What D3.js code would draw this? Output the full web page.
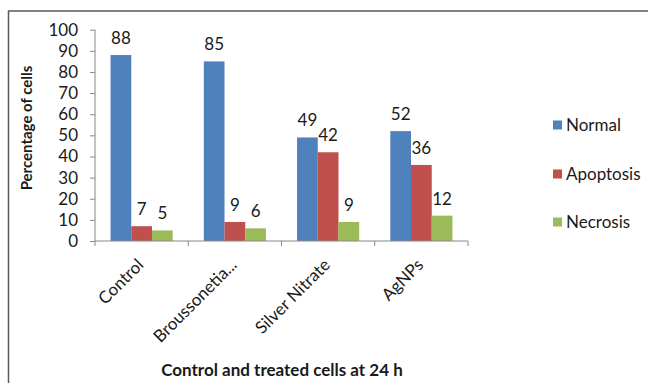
<!DOCTYPE html>
<html>
<head>
<meta charset="utf-8">
<script src="https://cdn.jsdelivr.net/npm/d3@7"></script>
<style>
  html, body { margin: 0; padding: 0; background: #fff; }
  svg { display: block; font-family: Lato, "Open Sans", sans-serif; }
</style>
</head>
<body>
<svg id="chart" width="648" height="383"></svg>
<script>
// Cell viability at 24 h, percentages per treatment
const categories = ["Control", "Broussonetia...", "Silver Nitrate", "AgNPs"];
const seriesNames = ["Normal", "Apoptosis", "Necrosis"];
const normal = [88, 85, 49, 52];
const apoptosis = [7, 9, 42, 36];
const necrosis = [5, 6, 9, 12];
const yTicks = [0, 10, 20, 30, 40, 50, 60, 70, 80, 90, 100];
const seriesColors = ["#4F81BD", "#C0504D", "#9BBB59"];

const seriesValues = [normal, apoptosis, necrosis];

const svg = d3.select("#chart");

// Frame around the chart area
svg.append("rect")
  .attr("x", 8.5).attr("y", 11)
  .attr("width", 700).attr("height", 500)
  .attr("fill", "none")
  .attr("stroke", "#5a5a5a")
  .attr("stroke-width", 1.5);

const plot = { left: 95, right: 468, top: 29.7, bottom: 241 };

const x = d3.scaleBand().domain(categories).range([plot.left, plot.right]).padding(0);
const xs = d3.scaleBand().domain(seriesNames).range([0, x.bandwidth()])
  .paddingInner(0).paddingOuter(0.75);
const y = d3.scaleLinear().domain([0, 100]).range([plot.bottom, plot.top]);

const axisColor = "#888";
const textColor = "#1a1a1a";

// Y axis
const yAxis = svg.append("g")
  .attr("transform", `translate(${plot.left},0)`)
  .call(d3.axisLeft(y).tickValues(yTicks).tickSize(5).tickPadding(12).tickFormat(d3.format("d")));
yAxis.select(".domain").attr("stroke", axisColor).attr("d", `M0,${plot.bottom}V${plot.top}`);
yAxis.selectAll(".tick line").attr("stroke", axisColor);
yAxis.selectAll(".tick text")
  .attr("fill", textColor)
  .style("font-size", "17px")
  .style("font-family", "Lato, sans-serif");

// Bars with value labels
const groups = svg.append("g").selectAll("g")
  .data(categories)
  .join("g")
  .attr("transform", d => `translate(${x(d)},0)`);

groups.each(function(cat, ci) {
  const g = d3.select(this);
  seriesNames.forEach((s, si) => {
    const v = seriesValues[si][ci];
    g.append("rect")
      .attr("x", xs(s))
      .attr("y", y(v))
      .attr("width", xs.bandwidth())
      .attr("height", y(0) - y(v))
      .attr("fill", seriesColors[si]);
    g.append("text")
      .attr("x", xs(s) + xs.bandwidth() / 2)
      .attr("y", y(v) - 11)
      .attr("text-anchor", "middle")
      .style("font-size", "17px")
      .attr("fill", textColor)
      .text(v);
  });
});

// X axis with boundary ticks
const xAxisG = svg.append("g");
xAxisG.append("line")
  .attr("x1", plot.left).attr("x2", plot.right)
  .attr("y1", plot.bottom).attr("y2", plot.bottom)
  .attr("stroke", axisColor);
const bounds = categories.map(c => x(c)).concat([plot.right]);
xAxisG.selectAll("line.tk")
  .data(bounds)
  .join("line")
  .attr("class", "tk")
  .attr("x1", d => d).attr("x2", d => d)
  .attr("y1", plot.bottom).attr("y2", plot.bottom + 5)
  .attr("stroke", axisColor);

// Rotated category labels
svg.append("g").selectAll("text")
  .data(categories)
  .join("text")
  .attr("transform", d => `translate(${x(d) + x.bandwidth() / 2 + 3},266) rotate(-45)`)
  .attr("text-anchor", "end")
  .style("font-size", "17px")
  .attr("fill", textColor)
  .text(d => d);

// Axis titles
svg.append("text")
  .attr("transform", "translate(32,128) rotate(-90)")
  .attr("text-anchor", "middle")
  .style("font-size", "15px")
  .style("font-weight", "bold")
  .attr("fill", textColor)
  .text("Percentage of cells");

svg.append("text")
  .attr("x", 282).attr("y", 376)
  .attr("text-anchor", "middle")
  .style("font-size", "17px")
  .style("font-weight", "bold")
  .attr("fill", textColor)
  .text("Control and treated cells at 24 h");

// Legend
const legendY = [125, 174, 222];
const legend = svg.append("g").selectAll("g")
  .data(seriesNames)
  .join("g")
  .attr("transform", (d, i) => `translate(553,${legendY[i]})`);
legend.append("rect")
  .attr("x", 0).attr("y", -4.5)
  .attr("width", 9).attr("height", 9)
  .attr("fill", (d, i) => seriesColors[i]);
legend.append("text")
  .attr("x", 13).attr("y", 6)
  .style("font-size", "17px")
  .attr("fill", textColor)
  .text(d => d);
</script>
</body>
</html>
